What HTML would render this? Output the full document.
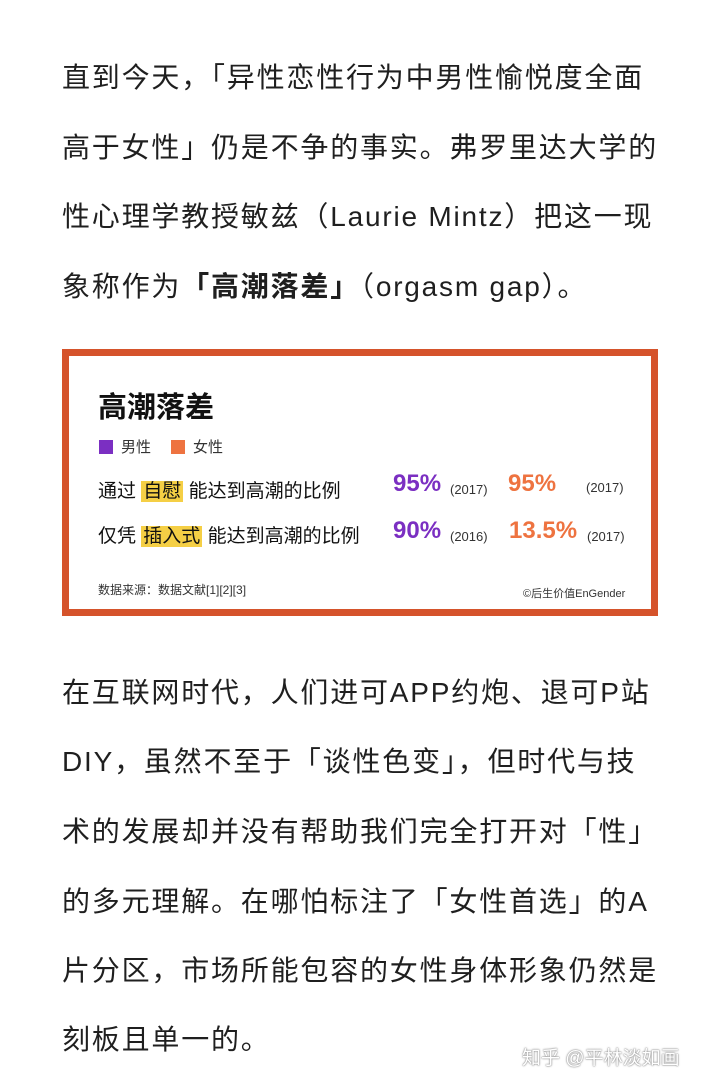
<!DOCTYPE html>
<html><head><meta charset="utf-8">
<style>
body{margin:0;width:720px;height:1087px;background:#fff;position:relative;overflow:hidden;font-family:"Liberation Sans","Noto Sans CJK SC",sans-serif;}
.p{position:absolute;left:62px;font-size:28px;letter-spacing:1.8px;color:#1f1f1f;white-space:nowrap;line-height:34px;}
.card{position:absolute;left:62px;top:349px;width:582px;height:253px;border:7px solid #d5532b;background:#fff;}
.a{position:absolute;white-space:nowrap;}
.hl{background:#f5cf45;padding:0 2px;}
</style></head><body>
<div class="p" style="top:61px">直到今天，「异性恋性行为中男性愉悦度全面</div>
<div class="p" style="top:131px">高于女性」仍是不争的事实。弗罗里达大学的</div>
<div class="p" style="top:200px">性心理学教授敏兹（Laurie Mintz）把这一现</div>
<div class="p" style="top:270px">象称作为<b>「高潮落差」</b>（orgasm gap）。</div>

<div class="card">
<div class="a" style="left:29px;top:28px;font-size:29px;font-weight:bold;color:#111">高潮落差</div>
<div class="a" style="left:30px;top:80px;font-size:15px;color:#333"><span style="display:inline-block;width:14px;height:14px;background:#7b2fc2;vertical-align:-2px;margin-right:8px"></span>男性</div>
<div class="a" style="left:102px;top:80px;font-size:15px;color:#333"><span style="display:inline-block;width:14px;height:14px;background:#ee7340;vertical-align:-2px;margin-right:8px"></span>女性</div>
<div class="a" style="left:29px;top:120px;font-size:19px;color:#111">通过 <span class="hl">自慰</span> 能达到高潮的比例</div>
<div class="a" style="left:29px;top:165px;font-size:19px;color:#111">仅凭 <span class="hl">插入式</span> 能达到高潮的比例</div>
<div class="a" style="left:324px;top:114px;font-size:24px;font-weight:bold;color:#7b2fc2">95%</div>
<div class="a" style="left:381px;top:126px;font-size:13px;color:#333">(2017)</div>
<div class="a" style="left:439px;top:114px;font-size:24px;font-weight:bold;color:#ee7340">95%</div>
<div class="a" style="left:517px;top:124px;font-size:13px;color:#333">(2017)</div>
<div class="a" style="left:324px;top:161px;font-size:24px;font-weight:bold;color:#7b2fc2">90%</div>
<div class="a" style="left:381px;top:173px;font-size:13px;color:#333">(2016)</div>
<div class="a" style="left:440px;top:161px;font-size:24px;font-weight:bold;color:#ee7340">13.5%</div>
<div class="a" style="left:518px;top:173px;font-size:13px;color:#333">(2017)</div>
<div class="a" style="left:29px;top:225px;font-size:12px;color:#333">数据来源：数据文献[1][2][3]</div>
<div class="a" style="left:454px;top:229px;font-size:11px;color:#333">©后生价值EnGender</div>
</div>

<div class="p" style="top:676px">在互联网时代，人们进可APP约炮、退可P站</div>
<div class="p" style="top:745px">DIY，虽然不至于「谈性色变」，但时代与技</div>
<div class="p" style="top:815px">术的发展却并没有帮助我们完全打开对「性」</div>
<div class="p" style="top:885px">的多元理解。在哪怕标注了「女性首选」的A</div>
<div class="p" style="top:954px">片分区，市场所能包容的女性身体形象仍然是</div>
<div class="p" style="top:1023px">刻板且单一的。</div>
<div class="a" style="left:522px;top:1043px;font-size:19px;color:#fff;text-shadow:0 0 2px #888,0 0 1px #666">知乎 @平林淡如画</div>
</body></html>
